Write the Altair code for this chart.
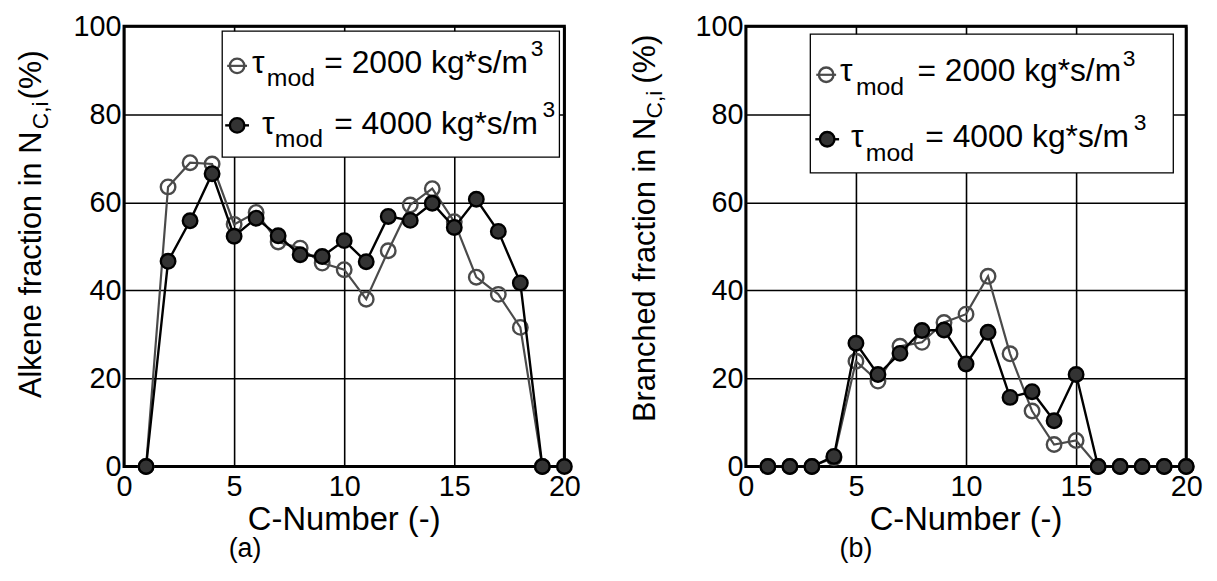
import altair as alt
import pandas as pd

FONT = "Liberation Sans"

# ---- data ----
c_num = list(range(1, 21))
alkene_2000 = [0, 63.5, 69.0, 68.7, 55.0, 57.7, 51.0, 49.6, 46.2, 44.7,
               38.0, 49.0, 59.4, 63.1, 55.6, 43.0, 39.1, 31.6, 0]
alkene_4000 = [0, 46.6, 55.8, 66.5, 52.3, 56.4, 52.4, 48.1, 47.7, 51.3,
               46.5, 56.8, 55.9, 59.8, 54.3, 60.7, 53.4, 41.7, 0, 0]
branched_2000 = [0, 0, 0, 2.0, 23.9, 19.4, 27.3, 28.2, 32.7, 34.6,
                 43.2, 25.6, 12.6, 5.0, 5.9, 0, 0, 0, 0, 0]
branched_4000 = [0, 0, 0, 2.3, 28.0, 20.9, 25.7, 30.9, 31.0, 23.3,
                 30.5, 15.7, 17.0, 10.4, 20.9, 0, 0, 0, 0, 0]

x_ticks = [0, 5, 10, 15, 20]
y_ticks = [0, 20, 40, 60, 80, 100]

W = 444
H = 444
GREY = "#4a4a4a"


def txt(s, x, y, size, angle=0, align="left", baseline="alphabetic"):
    return alt.Chart(alt.Data(values=[{}])).mark_text(
        text=s, font=FONT, fontSize=size, angle=angle, align=align,
        baseline=baseline, color="black"
    ).encode(x=alt.value(x), y=alt.value(y))


def panel(open_vals, fill_vals, yt, ylabel_tail, tag, leg):
    d_open = pd.DataFrame({"c": c_num[:len(open_vals)], "v": open_vals})
    d_fill = pd.DataFrame({"c": c_num[:len(fill_vals)], "v": fill_vals})
    X = alt.X("c:Q", scale=alt.Scale(domain=[0, 20], nice=False),
              axis=alt.Axis(values=x_ticks, title=None, labelFlush=False,
                            labelOverlap=False, labelPadding=6, format="d"))
    Y = alt.Y("v:Q", scale=alt.Scale(domain=[0, 100], nice=False),
              axis=alt.Axis(values=y_ticks, title=None, labelFlush=False,
                            labelOverlap=False, labelPadding=3, format="d"))
    l_open = alt.Chart(d_open).mark_line(color=GREY, strokeWidth=2.2).encode(x=X, y=Y)
    p_open = alt.Chart(d_open).mark_point(
        shape="circle", size=215, filled=False, stroke=GREY, strokeWidth=2.4,
        opacity=1).encode(x=X, y=Y)
    l_fill = alt.Chart(d_fill).mark_line(color="black", strokeWidth=2.4).encode(x=X, y=Y)
    p_fill = alt.Chart(d_fill).mark_point(
        shape="circle", size=215, filled=True, fill="#333333", stroke="black",
        strokeWidth=2.4, opacity=1).encode(x=X, y=Y)

    lx0, ly0, lx1, ly1 = leg["box"]
    box = alt.Chart(alt.Data(values=[{}])).mark_rect(
        fill="white", stroke="black", strokeWidth=1.3
    ).encode(x=alt.value(lx0), x2=alt.value(lx1), y=alt.value(ly0), y2=alt.value(ly1))

    sx1, sy1 = leg["sym1"]
    sx2, sy2 = leg["sym2"]
    sym1_line = alt.Chart(alt.Data(values=[{}])).mark_rule(color=GREY, strokeWidth=2.2).encode(
        x=alt.value(sx1 - 10), x2=alt.value(sx1 + 10), y=alt.value(sy1))
    sym1_pt = alt.Chart(alt.Data(values=[{}])).mark_point(
        shape="circle", size=215, filled=False, stroke=GREY, strokeWidth=2.4, opacity=1
    ).encode(x=alt.value(sx1), y=alt.value(sy1))
    sym2_line = alt.Chart(alt.Data(values=[{}])).mark_rule(color="black", strokeWidth=2.4).encode(
        x=alt.value(sx2 - 12), x2=alt.value(sx2 + 12), y=alt.value(sy2))
    sym2_pt = alt.Chart(alt.Data(values=[{}])).mark_point(
        shape="circle", size=215, filled=True, fill="#333333", stroke="black",
        strokeWidth=2.4, opacity=1
    ).encode(x=alt.value(sx2), y=alt.value(sy2))

    leg_txt = []
    for (tx, ty), (mx, my), (ex, ey), (sx, sy), label in leg["rows"]:
        leg_txt += [
            txt("τ", tx, ty, 32),
            txt("mod", mx, my, 25),
            txt(label, ex, ey, 32),
            txt("3", sx, sy, 23),
        ]

    ytitle = [
        txt(yt["main"], yt["x"], yt["y0"], 31, angle=270),
        txt("C,i", yt["x"] + 7, yt["y_sub"], 23, angle=270),
        txt(ylabel_tail, yt["x"], yt["y_tail"], 32, angle=270),
    ]
    xtitle = txt("C-Number (-)", W / 2, H + 64, 33, align="center")
    tag_t = txt(tag["s"], tag["x"], H + 91, 27, align="center")

    return alt.layer(
        l_open, p_open, l_fill, p_fill, box,
        sym1_line, sym1_pt, sym2_line, sym2_pt,
        *leg_txt, *ytitle, xtitle, tag_t
    ).properties(width=W, height=H)


left = panel(
    alkene_2000, alkene_4000,
    {"main": "Alkene fraction in N", "x": -84, "y0": 375, "y_sub": 104, "y_tail": 74},
    "(%)",
    {"s": "(a)", "x": 122},
    {
        "box": (99, 5, 439, 132),
        "sym1": (114, 40),
        "sym2": (114, 100),
        "rows": [
            ((129, 47), (144, 60), (202, 47), (410, 30), "= 2000 kg*s/m"),
            ((139, 109), (152, 122), (212, 109), (422, 92), "= 4000 kg*s/m"),
        ],
    },
)

right = panel(
    branched_2000, branched_4000,
    {"main": "Branched fraction in N", "x": -92, "y0": 399, "y_sub": 93, "y_tail": 58},
    " (%)",
    {"s": "(b)", "x": 111},
    {
        "box": (65, 8, 431, 148),
        "sym1": (81, 49),
        "sym2": (82, 114),
        "rows": [
            ((95, 55), (111, 69), (173, 55), (380, 40), "= 2000 kg*s/m"),
            ((106, 122), (121, 136), (181, 122), (391, 105), "= 4000 kg*s/m"),
        ],
    },
)

chart = alt.HConcatChart(hconcat=[left, right], spacing=183, bounds="flush").configure_view(
    stroke="black", strokeWidth=3
).configure_axis(
    domain=False, ticks=False, grid=True, gridColor="black", gridWidth=1.6,
    gridOpacity=1, labelFont=FONT, labelFontSize=29, labelColor="black"
).properties(padding={"left": 5, "top": 0, "right": 5, "bottom": 5})

chart.save("out.html", embed_options={"renderer": "svg", "actions": False})
